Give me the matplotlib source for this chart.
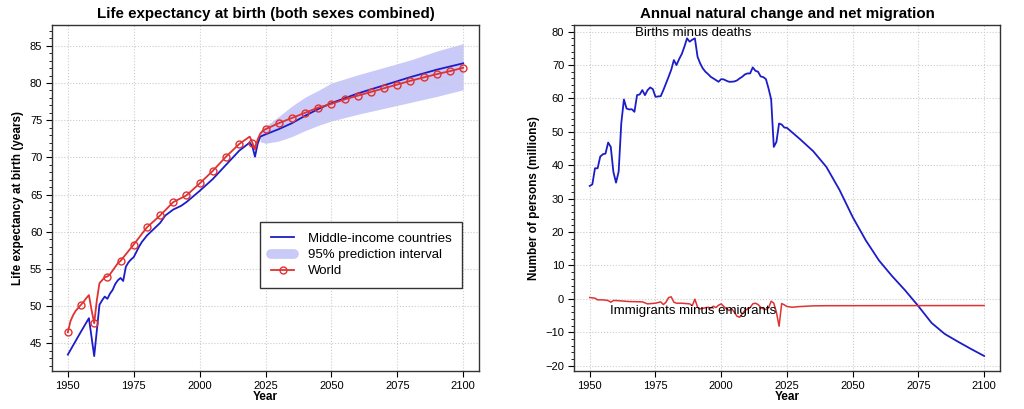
import matplotlib
matplotlib.use("Agg")
import matplotlib.pyplot as plt
from matplotlib.lines import Line2D
from matplotlib.ticker import MultipleLocator

plt.rcParams['font.family'] = ['Liberation Sans', 'DejaVu Sans']

# --- life expectancy, world (red) ---
world_years = [1950, 1951, 1952, 1953, 1954, 1955, 1956, 1957, 1958, 1959, 1960, 1961, 1962, 1963, 1964,
               1965, 1966, 1967, 1968, 1969, 1970, 1975, 1980, 1985, 1990, 1995, 2000, 2005, 2010,
               2015, 2019, 2020, 2021, 2022, 2023, 2024, 2025, 2030, 2035, 2040, 2045, 2050, 2055,
               2060, 2065, 2070, 2075, 2080, 2085, 2090, 2095, 2100]
world_le = [46.5, 48.0, 48.8, 49.4, 49.8, 50.2, 50.6, 51.1, 51.5, 49.5, 47.7, 50.8, 53.1, 53.5, 53.9,
            54.0, 54.3, 54.8, 55.3, 55.8, 56.1, 58.3, 60.6, 62.2, 64.0, 64.9, 66.5, 68.2, 70.1,
            71.8, 72.8, 72.0, 71.1, 72.4, 73.2, 73.6, 73.8, 74.6, 75.3, 76.0, 76.7, 77.2, 77.8,
            78.3, 78.8, 79.3, 79.8, 80.3, 80.75, 81.2, 81.6, 82.05]

# --- life expectancy, middle-income countries (blue) ---
mic_years = [1950, 1955, 1958, 1960, 1962, 1963, 1964, 1965, 1966, 1967, 1968, 1969, 1970, 1971, 1972,
             1973, 1974, 1975, 1976, 1977, 1978, 1980, 1985, 1987, 1990, 1993, 1995, 2000, 2005, 2010,
             2015, 2019, 2020, 2021, 2022, 2023, 2025, 2030, 2035, 2040, 2045, 2050, 2060, 2070,
             2080, 2090, 2100]
mic_le = [43.5, 46.6, 48.4, 43.3, 50.2, 50.8, 51.3, 51.0, 51.7, 52.2, 53.0, 53.5, 53.8, 53.4, 55.3,
          55.9, 56.3, 56.6, 57.3, 58.0, 58.6, 59.5, 61.2, 62.2, 63.0, 63.5, 64.0, 65.5, 67.1, 69.0,
          70.9, 72.0, 71.5, 70.1, 71.8, 72.8, 73.1, 73.8, 74.6, 75.6, 76.5, 77.3, 78.6, 79.7,
          80.8, 81.8, 82.65]

# --- 95% prediction interval ---
pi_years = [2023, 2025, 2030, 2035, 2040, 2045, 2050, 2060, 2070, 2080, 2090, 2100]
pi_low = [72.1, 71.9, 72.2, 72.8, 73.6, 74.3, 74.9, 75.8, 76.6, 77.4, 78.2, 79.1]
pi_high = [73.6, 74.2, 75.5, 76.9, 78.1, 79.0, 80.0, 81.1, 82.1, 83.1, 84.3, 85.3]

# --- births minus deaths (millions) ---
bd_years = list(range(1950, 2026)) + [2030, 2035, 2040, 2045, 2050, 2055, 2060, 2065, 2070,
                                      2075, 2080, 2085, 2090, 2095, 2100]
births_minus_deaths = [33.8, 34.3, 39.1, 39.1, 42.6, 43.3, 43.5, 46.8, 45.5, 38.0,
                       34.8, 38.1, 52.6, 59.7, 57.0, 56.7, 56.8, 56.0, 61.0, 61.2,
                       62.5, 61.0, 62.5, 63.3, 62.8, 60.5, 60.6, 60.7, 62.5, 64.5,
                       66.5, 68.6, 71.5, 70.0, 71.8, 73.3, 75.5, 78.0, 77.0, 77.6,
                       78.0, 72.5, 70.5, 69.0, 68.0, 67.3, 66.5, 66.0, 65.5, 65.0,
                       65.8, 65.7, 65.3, 65.0, 65.0, 65.1, 65.4, 66.0, 66.5, 67.2,
                       67.5, 67.5, 69.3, 68.3, 68.0, 66.6, 66.4, 65.8, 63.0, 59.7,
                       45.5, 47.0, 52.5, 52.2, 51.3, 51.2,
                       47.8, 44.2, 39.5, 32.6, 24.5, 17.5, 11.5, 6.8, 2.5,
                       -2.2, -7.2, -10.5, -12.8, -15.0, -17.1]

# --- immigrants minus emigrants (millions) ---
mig_years = [1950, 1952, 1953, 1955, 1957, 1958, 1959, 1960, 1965, 1970, 1972, 1975, 1977, 1978,
             1979, 1980, 1981, 1982, 1983, 1985, 1988, 1989, 1990, 1991, 1992, 1995, 1996, 1997,
             1998, 1999, 2000, 2001, 2002, 2003, 2004, 2005, 2006, 2007, 2008, 2009, 2010, 2011,
             2012, 2013, 2014, 2015, 2016, 2017, 2018, 2019, 2020, 2021, 2022, 2023, 2024, 2025,
             2027, 2030, 2035, 2040, 2100]
immigrants_minus_emigrants = [0.4, 0.2, -0.3, -0.3, -0.5, -1.0, -0.5, -0.5, -0.8, -0.9, -1.5, -1.3,
                              -0.9, -1.7, -1.0, 0.4, 0.6, -1.0, -1.3, -1.3, -1.5, -2.0, -0.1, -2.5,
                              -3.0, -2.5, -2.8, -2.2, -2.6, -1.9, -1.5, -2.3, -3.0, -3.5, -3.0, -4.0,
                              -5.2, -5.5, -4.5, -3.5, -3.0, -2.6, -1.5, -1.3, -1.7, -2.5, -3.0, -3.2,
                              -2.7, -0.7, -1.3, -4.0, -8.2, -1.4, -1.8, -2.3, -2.5, -2.3, -2.1,
                              -2.05, -2.0]

x_ticks = [1950, 1975, 2000, 2025, 2050, 2075, 2100]

blue = '#1c1cc8'
red = '#e03232'
band = '#cacaf8'

fig = plt.figure(figsize=(10.24, 4.09), dpi=100)
ax1 = fig.add_axes([0.0508, 0.0929, 0.417, 0.846])
ax2 = fig.add_axes([0.5605, 0.0929, 0.416, 0.846])


def style_axes(ax):
    ax.set_xlim(1944, 2106)
    ax.set_xticks(x_ticks)
    ax.grid(True, which='major', linestyle=':', color='#cccccc', linewidth=0.8)
    ax.tick_params(axis='both', which='major', direction='out', length=4, labelsize=8, pad=3)
    ax.tick_params(axis='y', which='minor', direction='out', length=2.5)
    for s in ax.spines.values():
        s.set_color('#333333')
        s.set_linewidth(1.0)
    ax.set_xlabel('Year', fontsize=8.5, fontweight='bold', labelpad=0)


# left chart
ax1.fill_between(pi_years, pi_low, pi_high, color=band, linewidth=0)
ln_mic, = ax1.plot(mic_years, mic_le, color=blue, lw=1.3)
marks = [i for i, y in enumerate(world_years) if y % 5 == 0]
ln_world, = ax1.plot(world_years, world_le, color=red, lw=1.3, marker='o', ms=5, mfc='none',
                     mec=red, mew=1.0, markevery=marks)
ax1.set_ylim(41.3, 87.8)
ax1.yaxis.set_major_locator(MultipleLocator(5))
ax1.yaxis.set_minor_locator(MultipleLocator(1))
style_axes(ax1)
ax1.set_title('Life expectancy at birth (both sexes combined)', fontsize=10.9, fontweight='bold', pad=5)
ax1.set_ylabel('Life expectancy at birth (years)', fontsize=8.5, fontweight='bold')
band_handle = Line2D([], [], color=band, lw=7, solid_capstyle='round')
world_handle = Line2D([], [], color=red, lw=1.3, marker='o', ms=5, mfc='none', mec=red, mew=1.0)
leg = ax1.legend([ln_mic, band_handle, world_handle],
                 ['Middle-income countries', '95% prediction interval', 'World'],
                 loc='lower right', bbox_to_anchor=(0.96, 0.24), fontsize=9.5, frameon=True,
                 fancybox=False, edgecolor='#333333', framealpha=1, borderpad=0.8,
                 handlelength=1.8, handletextpad=1.0, labelspacing=0.3, borderaxespad=0)
leg.get_frame().set_linewidth(1.0)

# right chart
ax2.plot(bd_years, births_minus_deaths, color=blue, lw=1.3)
ax2.plot(mig_years, immigrants_minus_emigrants, color=red, lw=1.1)
ax2.set_ylim(-21.6, 82)
ax2.yaxis.set_major_locator(MultipleLocator(10))
ax2.yaxis.set_minor_locator(MultipleLocator(2))
style_axes(ax2)
ax2.set_title('Annual natural change and net migration', fontsize=10.9, fontweight='bold', pad=5)
ax2.set_ylabel('Number of persons (millions)', fontsize=8.5, fontweight='bold')
ax2.text(1989.5, 79.5, 'Births minus deaths', ha='center', va='center', fontsize=9.5)
ax2.text(1989.5, -3.5, 'Immigrants minus emigrants', ha='center', va='center', fontsize=9.5)

fig.savefig('out.png', dpi=100)
